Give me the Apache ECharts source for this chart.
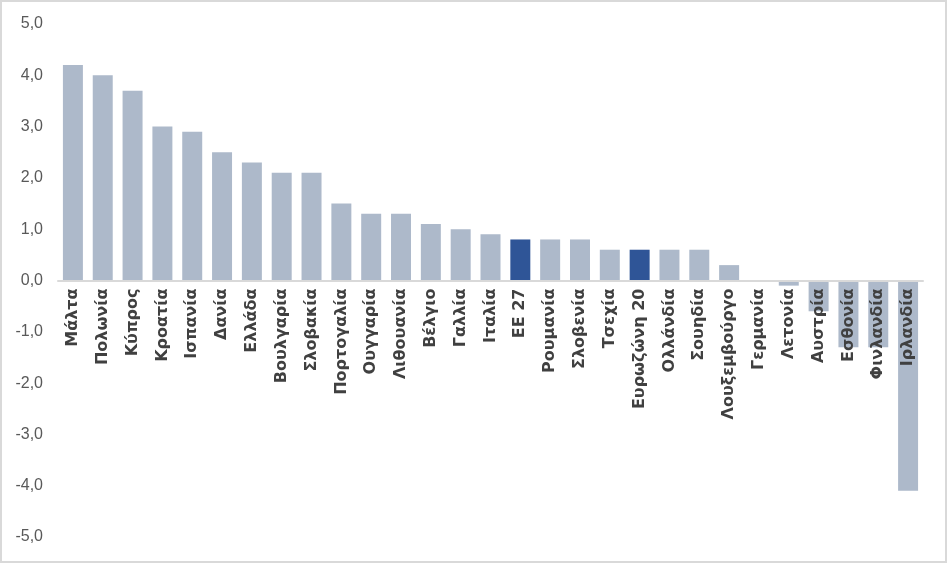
<!DOCTYPE html>
<html>
<head>
<meta charset="utf-8">
<script src="https://cdn.jsdelivr.net/npm/echarts@6/dist/echarts.min.js"></script>
<style>
html,body{margin:0;padding:0;background:#fff;}
#c{width:947px;height:563px;box-sizing:border-box;border:2px solid #d9d9d9;}
</style>
</head>
<body>
<div id="c"></div>
<script>
const categories = ["Μάλτα","Πολωνία","Κύπρος","Κροατία","Ισπανία","Δανία","Ελλάδα","Βουλγαρία","Σλοβακία","Πορτογαλία","Ουγγαρία","Λιθουανία","Βέλγιο","Γαλλία","Ιταλία","ΕΕ 27","Ρουμανία","Σλοβενία","Τσεχία","Ευρωζώνη 20","Ολλάνδία","Σουηδία","Λουξεμβούργο","Γερμανία","Λετονία","Αυστρία","Εσθονία","Φινλανδία","Ιρλανδία"];
const values = [4.2,4.0,3.7,3.0,2.9,2.5,2.3,2.1,2.1,1.5,1.3,1.3,1.1,1.0,0.9,0.8,0.8,0.8,0.6,0.6,0.6,0.6,0.3,0.0,-0.1,-0.6,-1.3,-1.3,-4.1];
const highlighted = ["ΕΕ 27","Ευρωζώνη 20"];
const yMin = -5, yMax = 5, yStep = 1;

const gridTop = 22, gridBottom = 24, H = 559;
const plotH = H - gridTop - gridBottom;
const zeroOffset = -plotH * (0 - yMin) / (yMax - yMin);

const chart = echarts.init(document.getElementById('c'));
chart.setOption({
  animation:false,
  grid:{left:56,right:22,top:gridTop,bottom:gridBottom,containLabel:false,outerBoundsMode:'none'},
  xAxis:{
    type:'category',
    data:categories,
    z:10,
    position:'bottom',
    offset:zeroOffset,
    axisLine:{onZero:false,lineStyle:{color:'#d9d9d9',width:2}},
    axisTick:{show:false},
    axisLabel:{rotate:90,margin:8,color:'#404040',fontFamily:'DejaVu Sans',fontWeight:'bold',fontSize:16,interval:0}
  },
  yAxis:{
    type:'value',min:yMin,max:yMax,interval:yStep,
    splitLine:{show:false},
    axisLine:{show:false},
    axisTick:{show:false},
    axisLabel:{margin:15,color:'#595959',fontFamily:'Liberation Sans',fontSize:16,
      formatter:v=>v.toFixed(1).replace('.',',')}
  },
  series:[{
    type:'bar',
    data:values.map((v,i)=>({value:v,itemStyle:{color:highlighted.includes(categories[i])?'#2f5597':'#adb9ca'}})),
    barCategoryGap:'33%'
  }]
});
</script>
</body>
</html>
